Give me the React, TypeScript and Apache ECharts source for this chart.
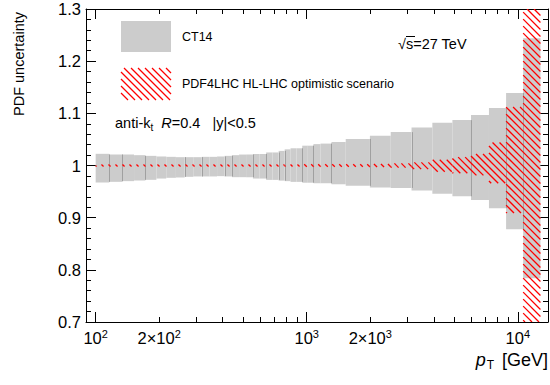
import React, { useEffect, useRef } from 'react';
import * as echarts from 'echarts';

// ---------- data ----------
const binEdges = [100, 116, 134, 152, 172, 194, 216, 240, 264, 290, 318, 346, 376, 408, 442, 478, 516, 556, 598, 642, 688, 736, 786, 838, 894, 952, 1012, 1076, 1162, 1310, 1530, 1992, 2500, 3137, 3937, 4900, 6000, 7300, 8800, 10600, 12800];

const ct14Up = [1.0224, 1.0211, 1.0211, 1.0198, 1.0185, 1.0173, 1.0166, 1.016, 1.016, 1.016, 1.0166, 1.0166, 1.0173, 1.0185, 1.0198, 1.021, 1.021, 1.022, 1.022, 1.025, 1.025, 1.028, 1.031, 1.033, 1.033, 1.038, 1.038, 1.041, 1.042, 1.045, 1.051, 1.057, 1.064, 1.073, 1.082, 1.087, 1.097, 1.11, 1.139, 1.244];
const ct14Down = [0.9674, 0.9687, 0.97, 0.9712, 0.9725, 0.975, 0.9764, 0.977, 0.9783, 0.979, 0.979, 0.979, 0.9796, 0.979, 0.9776, 0.9776, 0.9776, 0.975, 0.975, 0.9724, 0.9724, 0.971, 0.97, 0.9686, 0.9686, 0.967, 0.967, 0.966, 0.966, 0.964, 0.961, 0.958, 0.957, 0.952, 0.946, 0.941, 0.934, 0.918, 0.878, 0.784];

const hlUp = [1.002, 1.002, 1.002, 1.002, 1.002, 1.002, 1.002, 1.002, 1.002, 1.002, 1.002, 1.002, 1.002, 1.002, 1.002, 1.002, 1.002, 1.002, 1.002, 1.002, 1.002, 1.002, 1.002, 1.002, 1.002, 1.0025, 1.0025, 1.0025, 1.0025, 1.0025, 1.0025, 1.003, 1.004, 1.006, 1.011, 1.016, 1.022, 1.044, 1.112, 1.45];
const hlDown = [0.998, 0.998, 0.998, 0.998, 0.998, 0.998, 0.998, 0.998, 0.998, 0.998, 0.998, 0.998, 0.998, 0.998, 0.998, 0.998, 0.998, 0.998, 0.998, 0.998, 0.998, 0.998, 0.998, 0.998, 0.998, 0.9975, 0.9975, 0.9975, 0.9975, 0.9975, 0.9975, 0.997, 0.996, 0.993, 0.988, 0.985, 0.981, 0.966, 0.909, 0.55];

// bin edges where the adjacent CT14 boxes overlap and show a darker seam
const seamEdges = [116, 134, 172, 264, 318, 408, 442, 556, 642, 736, 786, 952, 1076, 1310, 1992, 3137, 6000, 8800, 10600];

const xRange = [90, 13900];
const yRange = [0.7, 1.3];
const xMajorTicks = [100, 1000, 10000];
const xMinorTicks = [200, 300, 400, 500, 600, 700, 800, 900, 2000, 3000, 4000, 5000, 6000, 7000, 8000, 9000];
const xLabelValues = [100, 200, 1000, 2000, 10000];
const xLabelTexts = ['{n|10}{s|2}', '{n|2×10}{s|2}', '{n|10}{s|3}', '{n|2×10}{s|3}', '{n|10}{s|4}'];

const legendLabels = ['CT14', 'PDF4LHC HL-LHC optimistic scenario'];

// ---------- helpers ----------
const FONT = '"Liberation Sans", Arial, Helvetica, sans-serif';
const GRAY = '#cccccc';
const RED = '#ff0000';
const HATCH_STEP = 7;

function hatchSegments(x0: number, y0: number, x1: number, y1: number, S: number) {
  const segs: number[][] = [];
  const cStart = Math.floor((x0 - y1) / S) * S;
  for (let c = cStart; c <= x1 - y0; c += S) {
    const sx = Math.max(x0, y0 + c);
    const ex = Math.min(x1, y1 + c);
    if (ex > sx) segs.push([sx, sx - c, ex, ex - c]);
  }
  return segs;
}

const clampY = (v: number) => Math.max(yRange[0], Math.min(yRange[1], v));
const lg = (v: number) => Math.log10(v);

function bandData(up: number[], down: number[]) {
  return up.map((u, i) => [lg(binEdges[i]), lg(binEdges[i + 1]), down[i], u]);
}

function seamData() {
  return seamEdges.map((e) => {
    const i = binEdges.indexOf(e);
    const top = Math.min(ct14Up[i - 1], ct14Up[i]);
    const bot = Math.max(ct14Down[i - 1], ct14Down[i]);
    return [lg(e), bot, top];
  });
}

function xLabelFormatter(v: number) {
  let best = 0;
  let bd = Infinity;
  xLabelValues.forEach((x, i) => {
    const d = Math.abs(lg(x) - v);
    if (d < bd) { bd = d; best = i; }
  });
  return xLabelTexts[best];
}

export default function App() {
  const ref = useRef<HTMLDivElement>(null);

  useEffect(() => {
    if (!ref.current) return;
    const chart = echarts.init(ref.current, undefined, { renderer: 'svg' });

    const xBase = {
      type: 'value',
      min: lg(xRange[0]),
      max: lg(xRange[1]),
      splitLine: { show: false },
      axisPointer: { show: false },
    };
    const rich = {
      n: { fontSize: 16.5, fontFamily: FONT, color: '#000', lineHeight: 20 },
      s: { fontSize: 11, fontFamily: FONT, color: '#000', verticalAlign: 'top', lineHeight: 12 },
    };

    const yBase = {
      type: 'value',
      min: yRange[0],
      max: yRange[1],
      interval: 0.1,
      splitLine: { show: false },
      axisLine: { show: true, lineStyle: { color: '#000', width: 1 } },
      axisTick: { show: true, inside: true, length: 10, lineStyle: { color: '#000', width: 1 } },
      minorTick: { show: true, splitNumber: 5, length: 5, lineStyle: { color: '#000', width: 1 } },
    };

    const legendHatch = hatchSegments(121, 68, 171, 100, HATCH_STEP);

    const option: any = {
      animation: false,
      backgroundColor: '#ffffff',
      grid: { left: 86, top: 9, width: 462, height: 313, show: false },
      xAxis: [
        {
          ...xBase,
          position: 'bottom',
          axisLine: { show: true, onZero: false, lineStyle: { color: '#000', width: 1 } },
          axisTick: { show: true, inside: true, length: 10, customValues: xMajorTicks.map(lg), lineStyle: { color: '#000' } },
          axisLabel: { show: true, customValues: xLabelValues.map(lg), formatter: xLabelFormatter, margin: 6, rich },
        },
        {
          ...xBase,
          position: 'bottom',
          axisLine: { show: false },
          axisTick: { show: true, inside: true, length: 5, customValues: xMinorTicks.map(lg), lineStyle: { color: '#000' } },
          axisLabel: { show: false },
        },
        {
          ...xBase,
          position: 'top',
          axisLine: { show: true, onZero: false, lineStyle: { color: '#000', width: 1 } },
          axisTick: { show: true, inside: true, length: 10, customValues: xMajorTicks.map(lg), lineStyle: { color: '#000' } },
          axisLabel: { show: false },
        },
        {
          ...xBase,
          position: 'top',
          axisLine: { show: false },
          axisTick: { show: true, inside: true, length: 5, customValues: xMinorTicks.map(lg), lineStyle: { color: '#000' } },
          axisLabel: { show: false },
        },
      ],
      yAxis: [
        {
          ...yBase,
          position: 'left',
          axisLabel: { show: true, fontSize: 16.5, fontFamily: FONT, color: '#000', margin: 5 },
        },
        {
          ...yBase,
          position: 'right',
          axisLabel: { show: false },
        },
      ],
      series: [
        {
          name: 'CT14',
          type: 'custom',
          coordinateSystem: 'cartesian2d',
          xAxisIndex: 0,
          yAxisIndex: 0,
          clip: true,
          z: 2,
          encode: { x: [0, 1], y: [2, 3] },
          data: bandData(ct14Up, ct14Down),
          renderItem: (params: any, api: any) => {
            const p0 = api.coord([api.value(0), clampY(api.value(3))]);
            const p1 = api.coord([api.value(1), clampY(api.value(2))]);
            return {
              type: 'rect',
              shape: { x: p0[0], y: p0[1], width: p1[0] - p0[0], height: p1[1] - p0[1] },
              style: { fill: GRAY },
            };
          },
        },
        {
          name: 'seams',
          type: 'custom',
          coordinateSystem: 'cartesian2d',
          xAxisIndex: 0,
          yAxisIndex: 0,
          clip: true,
          z: 3,
          encode: { x: 0, y: [1, 2] },
          data: seamData(),
          renderItem: (params: any, api: any) => {
            const p0 = api.coord([api.value(0), api.value(2)]);
            const p1 = api.coord([api.value(0), api.value(1)]);
            const x = Math.round(p0[0]) + 0.5;
            return {
              type: 'line',
              shape: { x1: x, y1: p0[1], x2: x, y2: p1[1] },
              style: { stroke: '#a0a0a0', lineWidth: 1 },
            };
          },
        },
        {
          name: 'PDF4LHC HL-LHC',
          type: 'custom',
          coordinateSystem: 'cartesian2d',
          xAxisIndex: 0,
          yAxisIndex: 0,
          clip: true,
          z: 4,
          encode: { x: [0, 1], y: [2, 3] },
          data: bandData(hlUp, hlDown),
          renderItem: (params: any, api: any) => {
            const p0 = api.coord([api.value(0), clampY(api.value(3))]);
            const p1 = api.coord([api.value(1), clampY(api.value(2))]);
            const segs = hatchSegments(p0[0], p0[1], p1[0], p1[1], HATCH_STEP);
            return {
              type: 'group',
              children: segs.map((s) => ({
                type: 'line',
                shape: { x1: s[0], y1: s[1], x2: s[2], y2: s[3] },
                style: { stroke: RED, lineWidth: 1.3 },
              })),
            };
          },
        },
      ],
      graphic: [
        { type: 'rect', shape: { x: 121, y: 21, width: 50, height: 31 }, style: { fill: GRAY }, z: 10 },
        {
          type: 'group',
          z: 10,
          children: legendHatch.map((s) => ({
            type: 'line',
            shape: { x1: s[0], y1: s[1], x2: s[2], y2: s[3] },
            style: { stroke: RED, lineWidth: 1.3 },
          })),
        },
        { type: 'text', x: 182, y: 37, z: 10, style: { text: legendLabels[0], font: `12.5px ${FONT}`, fill: '#000', verticalAlign: 'middle' } },
        { type: 'text', x: 182, y: 84, z: 10, style: { text: legendLabels[1], font: `12.5px ${FONT}`, fill: '#000', verticalAlign: 'middle' } },
        { type: 'text', x: 398, y: 44, z: 10, style: { text: '√s=27 TeV', font: `14.5px ${FONT}`, fill: '#000', verticalAlign: 'middle' } },
        { type: 'line', z: 10, shape: { x1: 406, y1: 36.5, x2: 415, y2: 36.5 }, style: { stroke: '#000', lineWidth: 1 } },
        {
          type: 'text',
          x: 115,
          y: 123,
          z: 10,
          style: {
            text: '{n|anti-k}{b|t}{n|  }{i|R}{n|=0.4   |y|<0.5}',
            verticalAlign: 'middle',
            rich: {
              n: { fontSize: 14.5, fontFamily: FONT, fill: '#000', lineHeight: 18 },
              i: { fontSize: 14.5, fontFamily: FONT, fontStyle: 'italic', fill: '#000', lineHeight: 18 },
              b: { fontSize: 10, fontFamily: FONT, fill: '#000', verticalAlign: 'bottom', lineHeight: 12 },
            },
          },
        },
        {
          type: 'text',
          x: 19,
          y: 12,
          rotation: Math.PI / 2,
          z: 10,
          style: { text: 'PDF uncertainty', font: `14.5px ${FONT}`, fill: '#000', align: 'right', verticalAlign: 'middle' },
        },
        {
          type: 'text',
          x: 548,
          y: 360,
          z: 10,
          style: {
            text: '{i|p}{b|T}{n| [GeV]}',
            align: 'right',
            verticalAlign: 'middle',
            rich: {
              n: { fontSize: 18, fontFamily: FONT, fill: '#000', lineHeight: 22 },
              i: { fontSize: 18, fontFamily: FONT, fontStyle: 'italic', fill: '#000', lineHeight: 22 },
              b: { fontSize: 12, fontFamily: FONT, fill: '#000', verticalAlign: 'bottom', lineHeight: 12, padding: [0, 3, 0, 1] },
            },
          },
        },
      ],
    };

    chart.setOption(option);
    return () => chart.dispose();
  }, []);

  return (
    <div
      ref={ref}
      style={{ position: 'fixed', left: 0, top: 0, width: 550, height: 385, background: '#fff' }}
    />
  );
}
